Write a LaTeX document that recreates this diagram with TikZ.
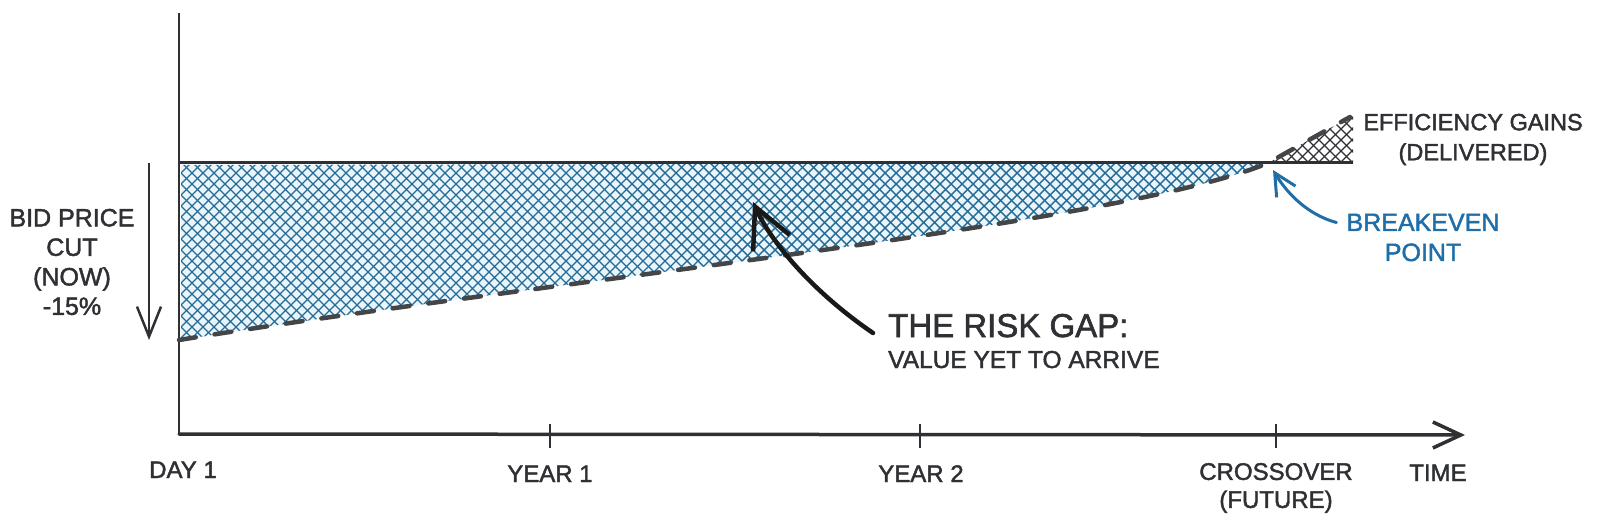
\documentclass[tikz,border=0pt]{standalone}
\usepackage{fontspec}
\setmainfont{Liberation Sans}[RawFeature={embolden=1.8}]
\usetikzlibrary{arrows.meta}
\definecolor{ink}{HTML}{2E3033}
\definecolor{hatchblue}{HTML}{236A96}
\definecolor{paleblue}{HTML}{EAF5FB}
\definecolor{textblue}{HTML}{1F6EA8}
\tikzset{
  lbl/.style={text=ink, inner sep=0pt, font=\fontsize{24}{28}\selectfont},
  bluelbl/.style={text=textblue, inner sep=0pt, align=center, font=\fontsize{25}{30}\selectfont},
  axisline/.style={draw=ink, line width=3.5pt, line cap=round},
  thinaxis/.style={draw=ink, line width=2.5pt},
  tickmark/.style={draw=ink, line width=2.5pt},
  baseline/.style={draw=ink, line width=3pt},
  dashcurve/.style={draw=ink!90, line width=4.5pt, line cap=round, dash pattern=on 17pt off 19pt},
  bluehatch/.style={draw=hatchblue, line width=1.4pt},
  inkhatch/.style={draw=ink, line width=1.2pt},
  bigarrow/.style={draw=black!90, line width=4.5pt, line cap=round, -{Straight Barb[length=40pt,width=40pt]}},
  bluearrow/.style={draw=textblue, line width=3pt, line cap=round, -{Straight Barb[length=22pt,width=22pt]}},
  cutarrow/.style={draw=ink, line width=2.5pt, -{Straight Barb[length=30pt,width=24pt]}}
}
\begin{document}
\begin{tikzpicture}[x=1pt,y=-1pt]
\useasboundingbox (0,0) rectangle (1600,529);
% key coordinates
\coordinate (ytop) at (179,13);
\coordinate (origin) at (179,434);
\coordinate (xend) at (1465,435);
\coordinate (lstart) at (179,163);
\coordinate (lend) at (1353,163);
\coordinate (cross) at (1268,163);
\coordinate (gainsend) at (1350,117);
\coordinate (cutstart) at (179,340);
% risk gap hatch
\begin{scope}
  \clip (181,165) -- (cross) .. controls (1120,225) and (550,280) .. (181,340) -- cycle;
  \fill[paleblue] (170,150) rectangle (1300,350);
  \foreach \k in {-40,-29,...,1290} {
    \draw[bluehatch] (\k,150) -- ++(200,200);
    \draw[bluehatch] (\k,350) -- ++(200,-200);
  }
\end{scope}
% efficiency gains hatch
\begin{scope}
  \clip (cross) -- (gainsend) -- (1353,114) -- (lend) -- cycle;
  \foreach \k in {1180,1191,...,1360} {
    \draw[inkhatch] (\k,100) -- ++(80,80);
    \draw[inkhatch] (\k,180) -- ++(80,-80);
  }
\end{scope}
% axes
\draw[thinaxis] (ytop) -- (origin);
\draw[axisline, -{Straight Barb[length=28pt,width=26pt]}] (origin) -- (xend);
\draw[tickmark] (550,424) -- (550,448);
\draw[tickmark] (920,424) -- (920,448);
\draw[tickmark] (1276,424) -- (1276,448);
% baseline price
\draw[baseline] (lstart) -- (lend);
% dashed value curve
\draw[dashcurve] (cutstart) .. controls (550,280) and (1120,225) .. (cross) -- (gainsend);
% left cut arrow
\draw[cutarrow] (149,163) -- (149,340);
% labels
\node[lbl, align=center, font=\fontsize{25}{29.5}\selectfont] (bid) at (72,262) {BID PRICE\\CUT\\(NOW)\\-15\%};
\node[lbl, anchor=base] (day1) at (183,478) {DAY 1};
\node[lbl, anchor=base] (year1) at (550,482) {YEAR 1};
\node[lbl, anchor=base] (year2) at (921,482) {YEAR 2};
\node[lbl, align=center] (crossover) at (1276,488) {CROSSOVER\\(FUTURE)};
\node[lbl, anchor=base] (time) at (1438,481) {TIME};
\node[lbl, align=center, font=\fontsize{23.5}{30}\selectfont] (gains) at (1473,139.5) {EFFICIENCY GAINS\\(DELIVERED)};
\node[bluelbl] (breakeven) at (1423,237.5) {BREAKEVEN\\POINT};
\node[lbl, anchor=base west, font=\fontsize{33}{36}\selectfont] (gap) at (888,337) {THE RISK GAP:};
\node[lbl, anchor=base west, font=\fontsize{24.5}{28}\selectfont] (gapsub) at (888,368) {VALUE YET TO ARRIVE};
% pointer arrows
\coordinate (gaptip) at (753,202);
\coordinate (bktip) at (1273,170);
\draw[bigarrow] (873,333) .. controls (810,290) and (770,240) .. (gaptip);
\draw[bluearrow] (breakeven.west) ++(-10,-15) .. controls (1305,214) and (1285,190) .. (bktip);
\end{tikzpicture}
\end{document}
